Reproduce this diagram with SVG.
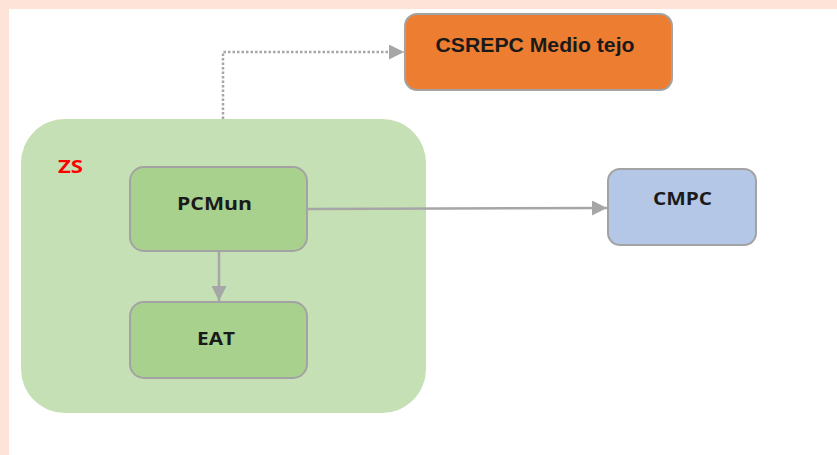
<svg xmlns="http://www.w3.org/2000/svg" width="837" height="455" viewBox="0 0 837 455">
  <style>
    .box { stroke: #a3a3a3; stroke-width: 2; }
    .lbl { font-family: "Open Sans", "DejaVu Sans", sans-serif; font-weight: bold; fill: #1a1a1a; text-anchor: middle; }
    .lbl-a { font-family: "Liberation Sans", Arial, sans-serif; font-weight: bold; fill: #1a1a1a; text-anchor: middle; }
    .link { fill: none; stroke: #a6a6a6; stroke-width: 2.5; }
  </style>
  <defs>
    <marker id="head" viewBox="0 0 10 10" refX="10" refY="5" markerWidth="7" markerHeight="6" markerUnits="strokeWidth" orient="auto">
      <path d="M0,0 L10,5 L0,10 Z" fill="#a6a6a6"/>
    </marker>
  </defs>

  <!-- page background with peach frame -->
  <rect x="0" y="0" width="837" height="455" fill="#fde3d8"/>
  <rect x="9" y="9" width="828" height="446" fill="#ffffff"/>

  <!-- zone container -->
  <g id="zs">
    <rect x="21" y="119" width="405" height="294" rx="44" ry="44" fill="#c5e0b4"/>
    <text x="70.5" y="173" font-family="'Open Sans', 'DejaVu Sans', sans-serif" font-weight="bold" font-size="17" fill="#ff0000" text-anchor="middle" textLength="25" lengthAdjust="spacingAndGlyphs">ZS</text>
  </g>

  <g id="csrepc">
    <rect class="box" x="405" y="14" width="267" height="76" rx="12" ry="12" fill="#ed7d31"/>
    <text class="lbl-a" x="535" y="52" font-size="19.5" textLength="199" lengthAdjust="spacingAndGlyphs">CSREPC Medio tejo</text>
  </g>

  <g id="pcmun">
    <rect class="box" x="130" y="167" width="177" height="84" rx="14" ry="14" fill="#a9d18e"/>
    <text class="lbl" x="214.5" y="210" font-size="17" textLength="75" lengthAdjust="spacingAndGlyphs">PCMun</text>
  </g>

  <g id="eat">
    <rect class="box" x="130" y="302" width="177" height="76" rx="14" ry="14" fill="#a9d18e"/>
    <text class="lbl" x="216" y="345" font-size="17" textLength="38" lengthAdjust="spacingAndGlyphs">EAT</text>
  </g>

  <g id="cmpc">
    <rect class="box" x="608" y="169" width="148" height="76" rx="12" ry="12" fill="#b4c7e7"/>
    <text class="lbl" x="682.5" y="205" font-size="17" textLength="59" lengthAdjust="spacingAndGlyphs">CMPC</text>
  </g>

  <!-- connectors -->
  <g id="connectors">
    <path class="link" d="M223,119 V52 H404" stroke-dasharray="2.5,2" marker-end="url(#head)"/>
    <path class="link" d="M219,251 V301" marker-end="url(#head)"/>
    <path class="link" d="M307,209 L607,208" marker-end="url(#head)"/>
  </g>
</svg>
